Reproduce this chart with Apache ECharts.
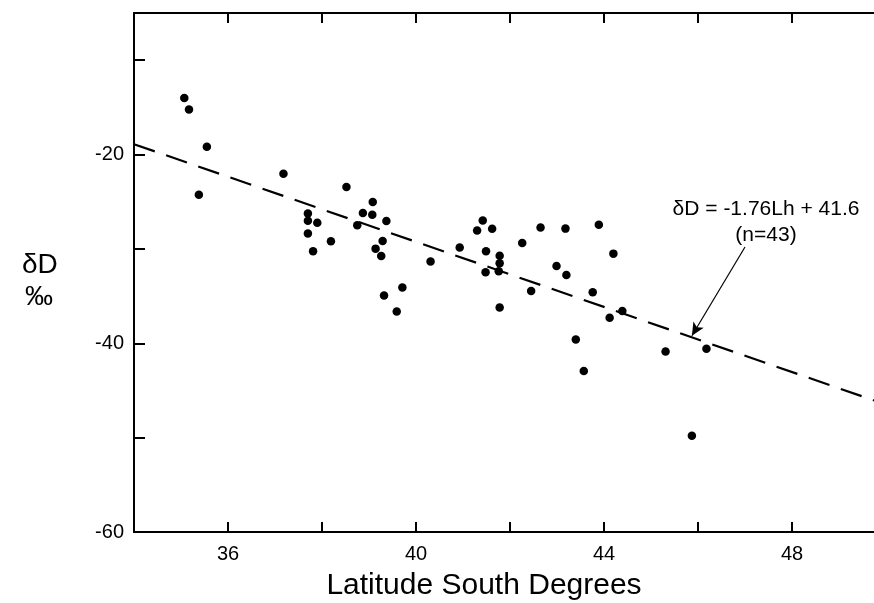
<!DOCTYPE html>
<html>
<head>
<meta charset="utf-8">
<script src="https://cdn.jsdelivr.net/npm/echarts@6/dist/echarts.min.js"></script>
<style>
html,body{margin:0;padding:0;background:#fff;overflow:hidden;width:874px;height:603px;}
#chart{width:900px;height:603px;}
</style>
</head>
<body>
<div id="chart"></div>
<script>
// Latitude (degrees south) of each sample
const latitude = [35.07,35.17,35.55,35.38,37.18,38.52,39.08,37.70,38.87,39.07,
  37.70,37.90,39.37,38.75,37.70,39.29,38.19,39.14,39.26,37.81,
  40.31,39.71,39.32,39.59,41.42,41.30,41.62,42.65,42.26,40.93,
  41.49,41.78,41.78,41.48,41.76,42.99,42.45,41.78,43.18,43.89,
  44.20,43.20,43.76,44.39,44.12,43.40,43.57,45.31,46.18,45.87];
// deltaD (per mil)
const deltaD = [-14.02,-15.22,-19.17,-24.27,-22.04,-23.45,-25.02,-26.24,-26.20,-26.37,
  -27.01,-27.22,-27.03,-27.50,-28.36,-29.15,-29.19,-29.97,-30.74,-30.26,
  -31.34,-34.09,-34.95,-36.64,-26.99,-28.05,-27.87,-27.73,-29.37,-29.84,
  -30.24,-30.73,-31.51,-32.47,-32.36,-31.81,-34.45,-36.20,-27.85,-27.44,
  -30.50,-32.76,-34.59,-36.58,-37.29,-39.59,-42.93,-40.86,-40.58,-49.79];
// regression line endpoints (as drawn)
const fitLat = [34, 50];
const fitD = [-18.9, -46.5];
// annotation arrow (tail, head)
const arrowLat = [47.0, 45.87];
const arrowD = [-29.8, -39.2];
// labelled ticks
const xTickLabels = [36, 40, 44, 48];
const yTickLabels = [-20, -40, -60];
const equationText = 'δD = -1.76Lh + 41.6';
const countText = '(n=43)';

const points = latitude.map((x, i) => [x, deltaD[i]]);
const fitData = fitLat.map((x, i) => [x, fitD[i]]);

const FONT = '"Liberation Sans", Arial, Helvetica, sans-serif';
const chart = echarts.init(document.getElementById('chart'), null, {renderer: 'canvas', width: 900, height: 603});
const axisCommon = {
  type: 'value', min: 34, max: 50, interval: 2,
  axisLine: {show: true, lineStyle: {color: '#000', width: 2}},
  axisTick: {show: true, inside: true, length: 10, lineStyle: {color: '#000', width: 2}},
  splitLine: {show: false}
};
chart.setOption({
  animation: false,
  backgroundColor: '#fff',
  grid: {left: 134, top: 13, width: 752, height: 519, containLabel: false},
  xAxis: [
    Object.assign({}, axisCommon, {
      position: 'bottom',
      axisLabel: {
        margin: 12, color: '#000', fontSize: 20, fontFamily: FONT,
        formatter: v => xTickLabels.includes(v) ? String(v) : ''
      }
    }),
    Object.assign({}, axisCommon, {
      position: 'top', axisLabel: {show: false}
    })
  ],
  yAxis: {
    type: 'value', min: -60, max: -5, interval: 10,
    axisLine: {show: true, lineStyle: {color: '#000', width: 2}},
    axisTick: {show: true, inside: true, length: 11, lineStyle: {color: '#000', width: 2}},
    splitLine: {show: false},
    axisLabel: {
      margin: 10, color: '#000', fontSize: 20, fontFamily: FONT,
      formatter: v => yTickLabels.includes(v) ? String(v) : ''
    }
  },
  series: [
    {
      type: 'line', data: fitData, symbol: 'none', silent: true, clip: true,
      lineStyle: {color: '#000', width: 2.2, type: [22, 12]},
      z: 2,
      markLine: {
        silent: true, symbol: ['none', 'arrow'], symbolSize: [9, 13],
        label: {show: false},
        lineStyle: {color: '#000', width: 1.2, type: 'solid'},
        data: [[{coord: [arrowLat[0], arrowD[0]]}, {coord: [arrowLat[1], arrowD[1]]}]]
      }
    },
    {
      type: 'scatter', data: points, symbol: 'circle', symbolSize: 8.5,
      itemStyle: {color: '#000', opacity: 1}, z: 3
    }
  ],
  graphic: [
    {type: 'text', left: 22, top: 251, style: {text: 'δD', font: '28px ' + FONT, fill: '#000'}},
    {type: 'text', left: 25, top: 283, style: {text: '‰', font: '28px ' + FONT, fill: '#000'}},
    {type: 'text', x: 766, y: 209, style: {text: equationText, font: '21px ' + FONT, fill: '#000', textAlign: 'center', textVerticalAlign: 'middle'}},
    {type: 'text', x: 766, y: 235, style: {text: countText, font: '21px ' + FONT, fill: '#000', textAlign: 'center', textVerticalAlign: 'middle'}},
    {type: 'text', x: 484, y: 586, style: {text: 'Latitude South Degrees', font: '30px ' + FONT, fill: '#000', textAlign: 'center', textVerticalAlign: 'middle'}}
  ]
});
</script>
</body>
</html>
